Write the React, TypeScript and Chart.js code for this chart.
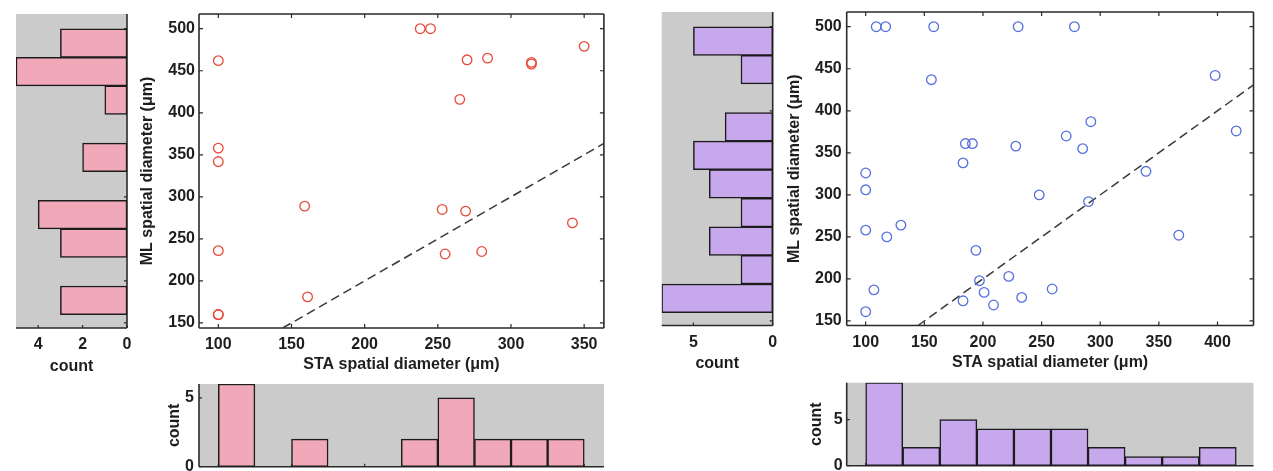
import React, { useEffect, useRef } from "react";
import { Chart, registerables } from "chart.js";

Chart.register(...registerables);

// ---------------- Panel A (red) ----------------
const staA = [100, 100, 100, 100, 100, 100, 159, 161, 238, 245, 270, 284, 314, 314, 265, 350, 253, 269, 255, 280, 342];
const mlA = [462, 358, 342, 236, 160, 160, 289, 181, 500, 500, 463, 465, 460, 458, 416, 479, 285, 283, 232, 235, 269];
const staLimA = [86.8, 363.5];
const mlLimA = [144, 517.5];
const staTicksA = [100, 150, 200, 250, 300, 350];
const mlTicks = [150, 200, 250, 300, 350, 400, 450, 500];
const mlBinCenters = [177, 211, 245, 279, 313, 347, 381, 415, 449, 483];
const mlCountsA = [3, 0, 3, 4, 0, 2, 0, 1, 5, 3];
const staBinCentersA = [112.5, 137.5, 162.5, 187.5, 212.5, 237.5, 262.5, 287.5, 312.5, 337.5];
const staCountsA = [6, 0, 2, 0, 0, 2, 5, 2, 2, 2];
const leftCountLimA = [0, 5];
const leftCountTicksA = [0, 2, 4];
const bottomCountLimA = [0, 6];

// ---------------- Panel B (blue) ----------------
const staB = [109, 117, 158, 230, 278, 156, 398, 292, 271, 416, 185, 191, 228, 285, 183, 339, 100, 100, 248, 290, 100, 130, 118, 367, 194, 222, 197, 107, 259, 201, 233, 183, 209, 100];
const mlB = [500, 500, 500, 500, 500, 437, 442, 387, 370, 376, 361, 361, 358, 355, 338, 328, 326, 306, 300, 292, 258, 264, 250, 252, 234, 203, 198, 187, 188, 184, 178, 174, 169, 161];
const staLimB = [83.8, 430.7];
const mlLimB = [144.6, 517.5];
const staTicksB = [100, 150, 200, 250, 300, 350, 400];
const mlCountsB = [7, 2, 4, 2, 4, 5, 3, 0, 2, 5];
const staBinCentersB = [115.8, 147.4, 179, 210.6, 242.2, 273.8, 305.4, 337, 368.6, 400.2];
const staCountsB = [9, 2, 5, 4, 4, 4, 2, 1, 1, 2];
const leftCountLimB = [0, 7];
const leftCountTicksB = [0, 5];
const bottomCountLimB = [0, 9];
const countTicks = [0, 5];

const xTitle = "STA spatial diameter (μm)";
const yTitle = "ML spatial diameter (μm)";
const countTitle = "count";

// ---------------- styles ----------------
const FONT = { family: "'Liberation Sans', Arial, Helvetica, sans-serif", size: 16, weight: "bold" as const };
const TEXT = "#1e1e1e";
const AXIS = "#2a2a2a";
const RED = "rgb(232,74,58)";
const BLUE = "rgb(86,112,222)";
const PINK = "#f1a8b9";
const PURPLE = "#c8a8ed";
const GRAY = "#cbcbcb";

type Box = { left: number; top: number; width: number; height: number };

const framePlugin = {
  id: "frame",
  beforeDatasetsDraw(chart: any, _a: any, opts: any) {
    const { ctx, chartArea: a, scales } = chart;
    ctx.save();
    if (opts.bg) {
      ctx.fillStyle = opts.bg;
      ctx.fillRect(a.left, a.top, a.right - a.left, a.bottom - a.top);
    }
    const sides: string[] = opts.sides || [];
    const L = opts.tickLen ?? 4;
    ctx.strokeStyle = AXIS;
    ctx.lineWidth = 1.2;
    ctx.beginPath();
    const xs = scales.x;
    const ys = scales.y;
    for (const t of xs.ticks) {
      const p = xs.getPixelForValue(t.value);
      if (sides.includes("bottom")) { ctx.moveTo(p, a.bottom); ctx.lineTo(p, a.bottom - L); }
      if (sides.includes("top")) { ctx.moveTo(p, a.top); ctx.lineTo(p, a.top + L); }
    }
    for (const t of ys.ticks) {
      const p = ys.getPixelForValue(t.value);
      if (sides.includes("left")) { ctx.moveTo(a.left, p); ctx.lineTo(a.left + L, p); }
      if (sides.includes("right")) { ctx.moveTo(a.right, p); ctx.lineTo(a.right - L, p); }
    }
    ctx.stroke();
    ctx.lineWidth = 1.6;
    ctx.beginPath();
    if (sides.includes("bottom")) { ctx.moveTo(a.left, a.bottom); ctx.lineTo(a.right, a.bottom); }
    if (sides.includes("top")) { ctx.moveTo(a.left, a.top); ctx.lineTo(a.right, a.top); }
    if (sides.includes("left")) { ctx.moveTo(a.left, a.top); ctx.lineTo(a.left, a.bottom); }
    if (sides.includes("right")) { ctx.moveTo(a.right, a.top); ctx.lineTo(a.right, a.bottom); }
    ctx.stroke();
    ctx.restore();
  },
};

const zeroPad = (s: any) => {
  s.paddingTop = 0; s.paddingBottom = 0; s.paddingLeft = 0; s.paddingRight = 0;
};
const setTicks = (vals: number[]) => (s: any) => { s.ticks = vals.map((v) => ({ value: v })); };
const noGrid = { display: false, drawTicks: false, tickLength: 0 };

function xAxis(lim: number[], ticks: number[], height: number, opt: any) {
  return {
    type: "linear", min: lim[0], max: lim[1], reverse: !!opt.reverse, offset: false,
    display: opt.display !== false,
    afterBuildTicks: setTicks(ticks),
    afterFit: (s: any) => { s.height = height; zeroPad(s); },
    grid: noGrid, border: { display: false },
    ticks: { display: opt.labels !== false, padding: opt.tickPad ?? 7, color: TEXT, font: FONT, maxRotation: 0, autoSkip: false },
    title: { display: !!opt.title, text: opt.title || "", color: TEXT, font: FONT, padding: { top: 0, bottom: opt.titlePad ?? 4 } },
  };
}
function yAxis(lim: number[], ticks: number[], width: number, opt: any) {
  return {
    type: "linear", min: lim[0], max: lim[1], offset: false,
    display: opt.display !== false,
    afterBuildTicks: setTicks(ticks),
    afterFit: (s: any) => { s.width = width; zeroPad(s); },
    grid: noGrid, border: { display: false },
    ticks: { display: opt.labels !== false, padding: opt.tickPad ?? 4, color: TEXT, font: FONT, autoSkip: false },
    title: { display: !!opt.title, text: opt.title || "", color: TEXT, font: FONT, padding: { top: opt.titlePad ?? 4, bottom: 0 } },
  };
}

const baseOpts = (padding: any, frame: any, scales: any, extra: any = {}) => ({
  animation: false, responsive: false, devicePixelRatio: 1, events: [],
  layout: { padding },
  plugins: { legend: { display: false }, tooltip: { enabled: false }, frame },
  scales,
  ...extra,
});

function scatterConfig(sta: number[], ml: number[], color: string, staLim: number[], mlLim: number[], staTicks: number[], L: any) {
  const lo = Math.max(staLim[0], mlLim[0]);
  const hi = Math.min(staLim[1], mlLim[1]);
  return {
    type: "scatter",
    data: {
      datasets: [
        {
          data: sta.map((x, i) => ({ x, y: ml[i] })),
          borderColor: color, backgroundColor: "rgba(0,0,0,0)",
          pointRadius: 4.8, pointBorderWidth: 1.3, pointHoverRadius: 4.8,
        },
        {
          type: "line",
          data: [{ x: lo, y: lo }, { x: hi, y: hi }],
          borderColor: "#383838", borderWidth: 1.5, borderDash: [9, 5],
          pointRadius: 0, fill: false, showLine: true,
        },
      ],
    },
    options: baseOpts(L.padding, { sides: ["left", "right", "top", "bottom"], tickLen: 4 }, {
      x: xAxis(staLim, staTicks, L.xh, { title: xTitle, titlePad: L.xTitlePad }),
      y: yAxis(mlLim, mlTicks, L.yw, { title: yTitle, titlePad: L.yTitlePad, tickPad: L.yTickPad }),
    }),
    plugins: [framePlugin],
  };
}

function leftHistConfig(counts: number[], fill: string, countLim: number[], countTicks: number[], mlLim: number[], L: any) {
  return {
    type: "bar",
    data: {
      datasets: [{
        data: counts.map((c, i) => ({ x: c, y: mlBinCenters[i] })),
        backgroundColor: fill, borderColor: "#1c1c1c", borderWidth: 1.5, borderSkipped: false,
        barPercentage: 1, categoryPercentage: 1,
      }],
    },
    options: baseOpts(L.padding, { sides: ["right", "bottom"], tickLen: 3, bg: GRAY }, {
      x: xAxis(countLim, countTicks, L.xh, { reverse: true, title: countTitle, titlePad: L.xTitlePad }),
      y: yAxis(mlLim, mlTicks, 0, { display: false }),
    }, { indexAxis: "y" }),
    plugins: [framePlugin],
  };
}

function bottomHistConfig(centers: number[], counts: number[], fill: string, staLim: number[], staTicks: number[], countLim: number[], L: any) {
  return {
    type: "bar",
    data: {
      datasets: [{
        data: counts.map((c, i) => ({ x: centers[i], y: c })),
        backgroundColor: fill, borderColor: "#1c1c1c", borderWidth: 1.5, borderSkipped: false,
        barPercentage: 1, categoryPercentage: 1,
      }],
    },
    options: baseOpts(L.padding, { sides: ["left", "bottom"], tickLen: 3, bg: GRAY }, {
      x: xAxis(staLim, staTicks, 0, { display: false }),
      y: yAxis(countLim, countTicks, L.yw, { title: countTitle, titlePad: L.yTitlePad, tickPad: L.yTickPad }),
    }),
    plugins: [framePlugin],
  };
}

function ChartCanvas({ box, make }: { box: Box; make: () => any }) {
  const ref = useRef<HTMLCanvasElement>(null);
  useEffect(() => {
    const chart = new Chart(ref.current as HTMLCanvasElement, make());
    return () => chart.destroy();
  }, []);
  return (
    <canvas
      ref={ref}
      width={box.width}
      height={box.height}
      style={{ position: "absolute", left: box.left, top: box.top, width: box.width, height: box.height }}
    />
  );
}

export default function App() {
  return (
    <div style={{ position: "absolute", left: 0, top: 0, width: 1273, height: 471, overflow: "hidden", background: "#fff" }}>
      <ChartCanvas
        box={{ left: 0, top: 0, width: 140, height: 380 }}
        make={() => leftHistConfig(mlCountsA, PINK, leftCountLimA, leftCountTicksA, mlLimA,
          { padding: { left: 16, right: 13, top: 14, bottom: 0 }, xh: 52, xTitlePad: 3.4 })}
      />
      <ChartCanvas
        box={{ left: 120, top: 0, width: 490, height: 380 }}
        make={() => scatterConfig(staA, mlA, RED, staLimA, mlLimA, staTicksA,
          { padding: { left: 0, right: 6, top: 14, bottom: 0 }, xh: 52, yw: 79, xTitlePad: 5.4, yTitlePad: 18.4, yTickPad: 4 })}
      />
      <ChartCanvas
        box={{ left: 120, top: 376, width: 490, height: 111 }}
        make={() => bottomHistConfig(staBinCentersA, staCountsA, PINK, staLimA, staTicksA, bottomCountLimA,
          { padding: { left: 0, right: 6, top: 8, bottom: 20.3 }, yw: 79, yTitlePad: 45.4, yTickPad: 5 })}
      />
      <ChartCanvas
        box={{ left: 640, top: 0, width: 145, height: 380 }}
        make={() => leftHistConfig(mlCountsB, PURPLE, leftCountLimB, leftCountTicksB, mlLimB,
          { padding: { left: 21.7, right: 12.3, top: 12, bottom: 0 }, xh: 54.5, xTitlePad: 7.1 })}
      />
      <ChartCanvas
        box={{ left: 760, top: 0, width: 513, height: 380 }}
        make={() => scatterConfig(staB, mlB, BLUE, staLimB, mlLimB, staTicksB,
          { padding: { left: 0, right: 19.5, top: 12, bottom: 0 }, xh: 54.5, yw: 86.7, xTitlePad: 7.4, yTitlePad: 25.4, yTickPad: 5 })}
      />
      <ChartCanvas
        box={{ left: 760, top: 374, width: 513, height: 112 }}
        make={() => bottomHistConfig(staBinCentersB, staCountsB, PURPLE, staLimB, staTicksB, bottomCountLimB,
          { padding: { left: 0, right: 19.5, top: 8.7, bottom: 20.3 }, yw: 86.7, yTitlePad: 47.1, yTickPad: 4 })}
      />
    </div>
  );
}
